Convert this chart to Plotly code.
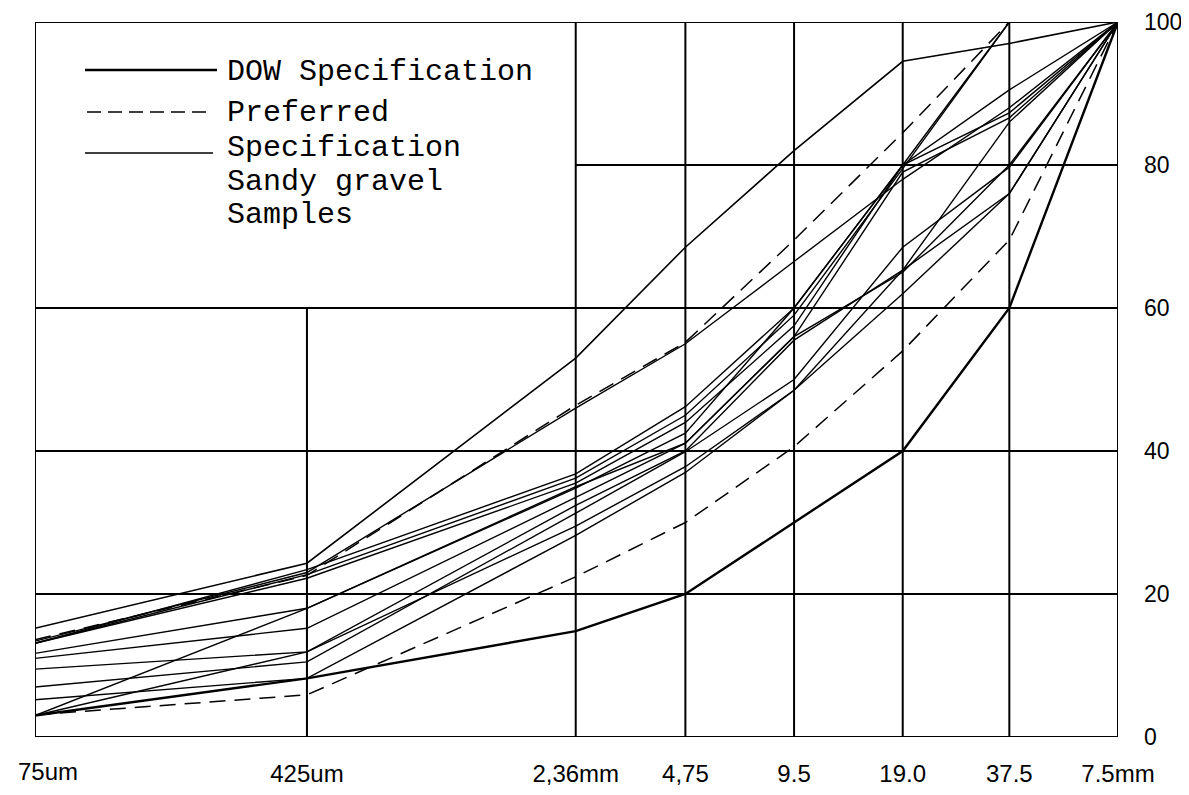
import plotly.graph_objects as go

# ---------------- data ----------------
sieve_sizes = [0.075, 0.425, 2.36, 4.75, 9.5, 19.0, 37.5, 75.0]   # mm (log axis)
sieve_labels = ["75um", "425um", "2,36mm", "4,75", "9.5", "19.0", "37.5", "7.5mm"]
y_ticks = [0, 20, 40, 60, 80, 100]

dow_lower = [3.0, 8.2, 14.8, 20.0, 30.0, 40.0, 60.0, 100.0]
dow_upper = [15.2, 24.3, 53.0, 68.5, 82.0, 94.5, 97.0, 100.0]
pref_lower = [3.1, 5.9, 22.4, 30.0, 40.6, 54.0, 69.5, 100.0]
pref_upper = [13.6, 22.6, 46.4, 55.2, 69.5, 84.5, 100.0, 100.0]

samples = [
    [13.1, 23.4, 36.8, 46.2, 60.0, 80.0, 100.0, 100.0],
    [13.1, 22.7, 36.2, 45.0, 59.0, 79.5, 100.0, 100.0],
    [13.1, 22.2, 35.5, 44.0, 57.5, 80.0, 90.5, 100.0],
    [11.7, 18.0, 34.8, 42.5, 60.0, 80.0, 87.3, 100.0],
    [11.0, 15.2, 33.5, 41.1, 56.0, 79.0, 86.6, 100.0],
    [9.5, 11.9, 32.4, 40.0, 55.5, 65.3, 86.0, 100.0],
    [7.0, 10.5, 31.3, 39.9, 50.0, 68.5, 79.7, 100.0],
    [5.2, 8.2, 28.2, 37.0, 48.5, 65.3, 76.0, 100.0],
    [3.0, 18.0, 35.0, 41.1, 56.0, 65.0, 80.0, 100.0],
    [3.0, 11.9, 29.5, 37.8, 48.5, 62.0, 76.0, 100.0],
    [13.4, 23.0, 46.0, 55.0, 66.5, 78.0, 88.0, 100.0],
]

# grid layout description
vgrid_top = {0.425: 60}          # vertical lines that stop below the top
hgrid_values = [20, 40, 60, 80]
hgrid_start = {80: 2.36}         # horizontal lines that start further right

fig = go.Figure()

for s in samples:
    fig.add_trace(go.Scatter(x=sieve_sizes, y=s, mode="lines",
                             line=dict(color="black", width=1.4),
                             showlegend=False, hoverinfo="skip"))

for spec in (pref_lower, pref_upper):
    fig.add_trace(go.Scatter(x=sieve_sizes, y=spec, mode="lines",
                             line=dict(color="black", width=1.5, dash="16px,9px"),
                             showlegend=False, hoverinfo="skip"))

fig.add_trace(go.Scatter(x=sieve_sizes, y=dow_lower, mode="lines",
                         line=dict(color="black", width=2.4),
                         showlegend=False, hoverinfo="skip"))
fig.add_trace(go.Scatter(x=sieve_sizes, y=dow_upper, mode="lines",
                         line=dict(color="black", width=1.6),
                         showlegend=False, hoverinfo="skip"))

# ---------------- grid / frame ----------------
shapes = []
xmin, xmax = sieve_sizes[0], sieve_sizes[-1]
gl = dict(color="black", width=2)
for xv in sieve_sizes:
    shapes.append(dict(type="line", xref="x", yref="y", x0=xv, x1=xv,
                       y0=0, y1=vgrid_top.get(xv, 100), line=gl, layer="below"))
for yv in [0, 100] + hgrid_values:
    shapes.append(dict(type="line", xref="x", yref="y", x0=hgrid_start.get(yv, xmin),
                       x1=xmax, y0=yv, y1=yv, line=gl, layer="below"))

# ---------------- hand-drawn legend ----------------
PW, PH = 1083, 715
legend_font = dict(family="Liberation Mono, Courier New, monospace", size=30, color="black")
shapes += [
    dict(type="line", xref="paper", yref="paper", x0=50 / PW, x1=182 / PW,
         y0=1 - 48 / PH, y1=1 - 48 / PH, line=dict(color="black", width=2.5)),
    dict(type="line", xref="paper", yref="paper", x0=52 / PW, x1=177 / PW,
         y0=1 - 90 / PH, y1=1 - 90 / PH, line=dict(color="black", width=1.5, dash="14px,7px")),
    dict(type="line", xref="paper", yref="paper", x0=50 / PW, x1=178 / PW,
         y0=1 - 131 / PH, y1=1 - 131 / PH, line=dict(color="black", width=1.4)),
]
legend_rows = [("DOW Specification", 50), ("Preferred", 91), ("Specification", 126),
               ("Sandy gravel", 160), ("Samples", 193)]
annotations = []
for txt, ypix in legend_rows:
    annotations.append(dict(text=txt, xref="paper", yref="paper", x=190 / PW,
                            y=1 - ypix / PH, xanchor="left", yanchor="middle",
                            showarrow=False, font=legend_font))

tick_font = dict(family="Liberation Sans, Arial, sans-serif", size=24, color="black")
# first x label sits to the right of its tick so it stays inside the page
annotations.append(dict(text=sieve_labels[0], xref="x", yref="paper",
                        x=0.0, y=-34 / PH, xanchor="left", yanchor="middle",
                        xshift=-19, showarrow=False, font=tick_font))
annotations[-1]["x"] = -1.12494  # log10 of first sieve (axis coordinate)

# page body has an 8px offset; keep the figure inside the window
fig.update_layout(
    width=1173, height=779,
    margin=dict(l=27, r=63, t=14, b=50, autoexpand=False),
    paper_bgcolor="white", plot_bgcolor="white",
    shapes=shapes, annotations=annotations,
    xaxis=dict(type="log", range=[-1.12494, 1.87506], tickvals=sieve_sizes[1:],
               ticktext=sieve_labels[1:], showgrid=False, zeroline=False, showline=False,
               ticks="", ticklabelstandoff=20, automargin=False, ticklabeloverflow="allow",
               tickfont=tick_font),
    yaxis=dict(range=[0, 100], side="right", tickvals=y_ticks, showgrid=False,
               zeroline=False, showline=False, ticks="", ticklabelstandoff=25, automargin=False,
               ticklabeloverflow="allow",
               tickfont=dict(family="Liberation Sans, Arial, sans-serif", size=23, color="black")),
)

fig.write_html("out.html")
